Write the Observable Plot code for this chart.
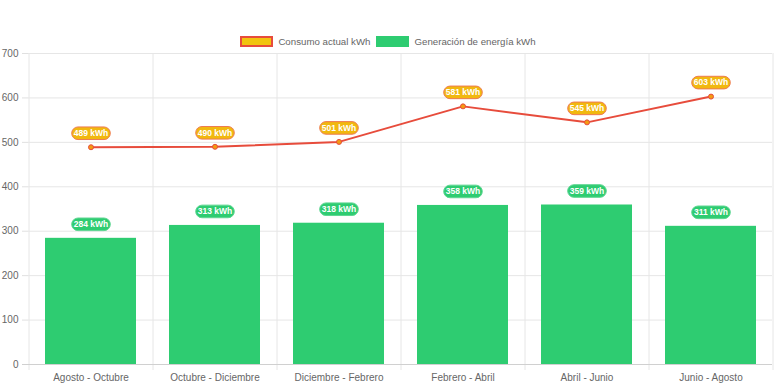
<!DOCTYPE html>
<html>
<head>
<meta charset="utf-8">
<script src="https://cdn.jsdelivr.net/npm/d3@7"></script>
<script src="https://cdn.jsdelivr.net/npm/@observablehq/plot@0.6"></script>
<style>
  html, body { margin: 0; padding: 0; background: #fff; }
  body { width: 776px; height: 388px; overflow: hidden; font-family: "Liberation Sans", Arial, sans-serif; }
  #legend { height: 48px; box-sizing: border-box; padding-top: 34px; display: flex; justify-content: center; align-items: center; font-size: 9.7px; color: #666; }
  .item { display: flex; align-items: center; margin: 0 3px; height: 13px; }
  .sw { width: 33px; height: 11px; margin-right: 5px; box-sizing: border-box; }
</style>
</head>
<body>
<div id="legend"></div>
<div id="chart"></div>
<script>
const periods = ["Agosto - Octubre", "Octubre - Diciembre", "Diciembre - Febrero", "Febrero - Abril", "Abril - Junio", "Junio - Agosto"];
const consumo = [489, 490, 501, 581, 545, 603];
const generacion = [284, 313, 318, 358, 359, 311];
const yTicks = [0, 100, 200, 300, 400, 500, 600, 700];
const seriesNames = ["Consumo actual kWh", "Generación de energía kWh"];

const rows = periods.map((p, i) => ({periodo: p, consumo: consumo[i], generacion: generacion[i]}));

const W = 776, H = 340, mL = 28, mR = 4;
const step = (W - mL - mR) / periods.length;

function pill(halfW, halfH) {
  return {
    draw(ctx) {
      ctx.moveTo(-halfW, -halfH);
      ctx.lineTo(halfW, -halfH);
      ctx.arc(halfW, 0, halfH, -Math.PI / 2, Math.PI / 2);
      ctx.lineTo(-halfW, halfH);
      ctx.arc(-halfW, 0, halfH, Math.PI / 2, 3 * Math.PI / 2);
      ctx.closePath();
    }
  };
}
const pillSym = pill(13, 6.3);

// Legend
const legend = document.getElementById("legend");
legend.innerHTML = `
  <div class="item"><div class="sw" style="background:#f1c40f;border:2px solid #e74c3c"></div>${seriesNames[0]}</div>
  <div class="item"><div class="sw" style="background:#2ecc71"></div>${seriesNames[1]}</div>`;

const chart = Plot.plot({
  width: W,
  height: H,
  marginTop: 5,
  marginBottom: 24,
  marginLeft: mL,
  marginRight: mR,
  style: {fontFamily: "Liberation Sans, Arial, sans-serif", fontSize: "10px", color: "#666", background: "#fff"},
  x: {domain: periods, paddingInner: 0.27, paddingOuter: 0.135},
  y: {domain: [0, 700]},
  marks: [
    Plot.gridY(yTicks, {stroke: "#e6e6e6", strokeOpacity: 1}),
    Plot.ruleX(periods, {x: d => d, dx: -step / 2, stroke: "#e6e6e6", insetBottom: -6}),
    Plot.ruleX(periods.slice(-1), {x: d => d, dx: step / 2, stroke: "#e6e6e6", insetBottom: -6}),
    Plot.axisY(yTicks, {tickSize: 6, tickPadding: 4, stroke: "#e0e0e0", fill: "#666", fontSize: 10, label: null}),
    Plot.axisX({tickSize: 0, tickPadding: 9, fill: "#666", fontSize: 10, label: null}),
    Plot.barY(rows, {x: "periodo", y: "generacion", fill: "#2ecc71"}),
    Plot.ruleY([0], {stroke: "#d0d0d0", insetLeft: -6}),
    Plot.lineY(rows, {x: "periodo", y: "consumo", stroke: "#e74c3c", strokeWidth: 2}),
    Plot.dot(rows, {x: "periodo", y: "consumo", r: 2.5, fill: "#f39c12", stroke: "#e74c3c", strokeWidth: 1}),
    Plot.dot(rows, {x: "periodo", y: "consumo", symbol: pillSym, fill: "#f1b80f", stroke: "#ee7b52", strokeWidth: 1, dy: -14}),
    Plot.text(rows, {x: "periodo", y: "consumo", text: d => `${d.consumo} kWh`, fill: "#fff", fontWeight: "bold", fontSize: 8.5, dy: -14}),
    Plot.dot(rows, {x: "periodo", y: "generacion", symbol: pillSym, fill: "#2ecc71", stroke: "#5ed692", strokeWidth: 1, dy: -14}),
    Plot.text(rows, {x: "periodo", y: "generacion", text: d => `${d.generacion} kWh`, fill: "#fff", fontWeight: "bold", fontSize: 8.5, dy: -14})
  ]
});
document.getElementById("chart").appendChild(chart);
</script>
</body>
</html>
